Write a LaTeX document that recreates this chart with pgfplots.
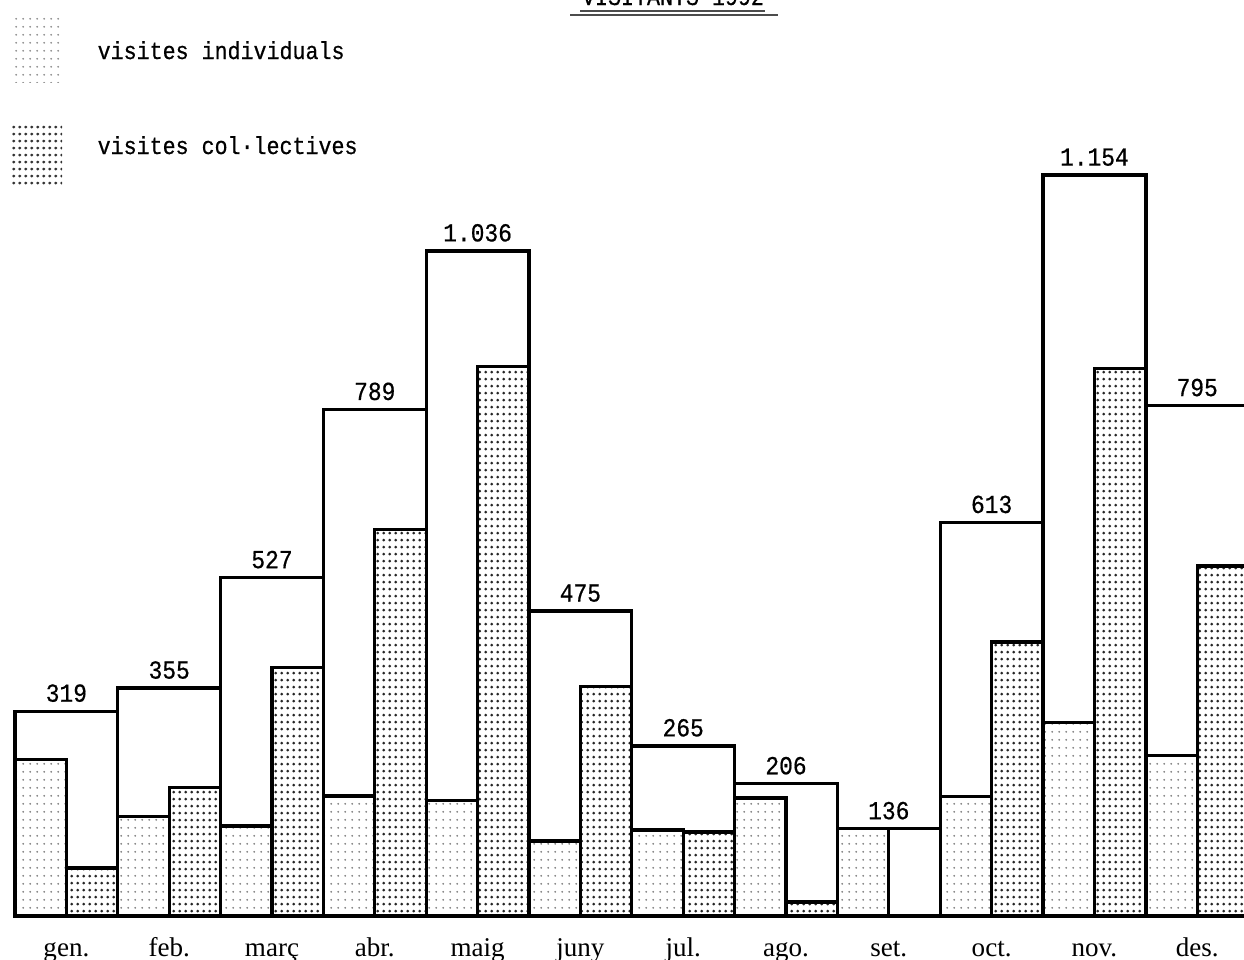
\documentclass[border=0pt]{standalone}
\usepackage{fontspec}
\setmainfont{Liberation Serif}
\newfontfamily\tw[FakeStretch=0.88,FakeBold=0.6]{Liberation Mono}
\usepackage{pgfplots}
\pgfplotsset{compat=1.18}
\usetikzlibrary{patterns}

% light dots (individual visits) and dense dots (group visits)
\pgfdeclarepatternformonly{sparsedots}{\pgfqpoint{0pt}{0pt}}{\pgfqpoint{1.99pt}{2.28pt}}{\pgfqpoint{1.99pt}{2.28pt}}%
  {\pgfpathcircle{\pgfqpoint{0.9pt}{1pt}}{0.3pt}\pgfusepath{fill}}
\pgfdeclarepatternformonly{densedots}{\pgfqpoint{0pt}{0pt}}{\pgfqpoint{1.65pt}{1.85pt}}{\pgfqpoint{1.65pt}{1.85pt}}%
  {\pgfpathcircle{\pgfqpoint{0.8pt}{0.9pt}}{0.45pt}\pgfusepath{fill}}

\begin{document}
\begin{tikzpicture}[x=0.1mm,y=0.1mm]
\useasboundingbox (0,0) rectangle (1244,959);
\begin{axis}[
  at={(1.5mm,4.3mm)}, anchor=south west,
  scale only axis, width=122.9mm, height=91.6mm,
  xmin=0, xmax=11.955, ymin=0, ymax=1426.8,
  axis x line*=bottom, axis y line=none,
  x axis line style={line width=1.4pt, -},
  xtick={0.5,1.5,...,11.5},
  xticklabels={gen.,feb.,març,abr.,maig,juny,jul.,ago.,set.,oct.,nov.,des.},
  major tick length=0pt,
  xticklabel style={font=\fontsize{7.7pt}{9pt}\selectfont, anchor=base, inner sep=0pt, yshift=-4mm},
  ytick=\empty,
  clip=false,
]
% total visitors
\addplot[ybar, bar width=1, bar shift=0, fill=white, draw=black, line width=0.95pt,
  point meta=explicit symbolic, nodes near coords,
  every node near coord/.append style={font=\tw\fontsize{7.4pt}{8pt}\selectfont, anchor=base, inner sep=0pt, yshift=0.95mm}]
coordinates {
  (0.5,319)[319] (1.5,355)[355] (2.5,527)[527] (3.5,789)[789]
  (4.5,1036)[1.036] (5.5,475)[475] (6.5,265)[265] (7.5,206)[206]
  (8.5,136)[136] (9.5,613)[613] (10.5,1154)[1.154] (11.5,795)[795]
};
% visites individuals
\addplot[ybar, bar width=0.5, bar shift=-0.25, pattern=sparsedots, pattern color=black!50,
  draw=black, line width=0.95pt]
coordinates {
  (0.5,244) (1.5,155) (2.5,140) (3.5,187) (4.5,180) (5.5,117)
  (6.5,134) (7.5,184) (8.5,136) (9.5,186) (10.5,301) (11.5,250)
};
% visites col·lectives
\addplot[ybar, bar width=0.5, bar shift=0.25, pattern=densedots, pattern color=black!85,
  draw=black, line width=0.95pt]
coordinates {
  (0.5,75) (1.5,200) (2.5,387) (3.5,602) (4.5,856) (5.5,358)
  (6.5,131) (7.5,22) (8.5,0) (9.5,427) (10.5,853) (11.5,545)
};
\end{axis}

% title, cut by the top edge as in the scan
\node[anchor=base, inner sep=0pt, font=\tw\fontsize{7pt}{8pt}\selectfont] at (673,954) {VISITANTS 1992};
\draw[black!70, line width=0.3pt] (580,948) -- (765,948);
\draw[black!70, line width=0.3pt] (570,944) -- (778,944);

% legend
\fill[pattern=sparsedots, pattern color=black!45] (12,877) rectangle (62,944);
\node[anchor=base west, inner sep=0pt, font=\tw\fontsize{7pt}{8pt}\selectfont] at (97,900) {visites individuals};
\fill[pattern=densedots, pattern color=black!80] (12,774) rectangle (62,834);
\node[anchor=base west, inner sep=0pt, font=\tw\fontsize{7pt}{8pt}\selectfont] at (97,805) {visites col·lectives};
\end{tikzpicture}
\end{document}
